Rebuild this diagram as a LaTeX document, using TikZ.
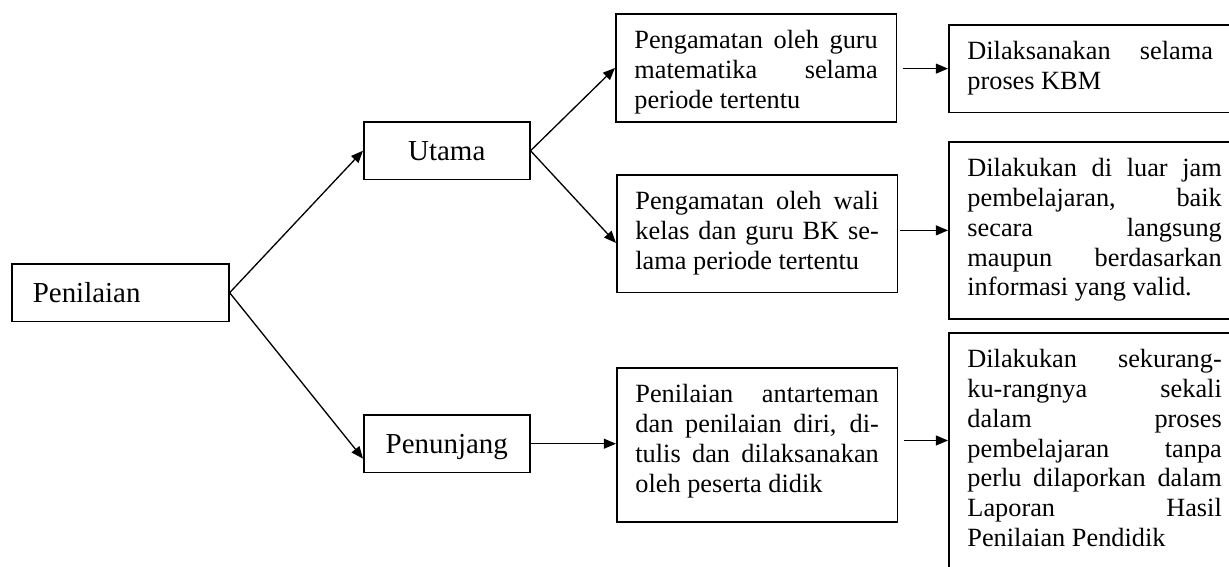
\documentclass[tikz,border=0pt]{standalone}
\usepackage{fontspec}
\setmainfont{Liberation Serif}
\usetikzlibrary{arrows.meta}
\tolerance=10000
\newcommand{\isi}[2]{\parbox[t]{#1}{\strut #2\strut}}

\begin{document}
\begin{tikzpicture}[x=0.456pt, y=-0.456pt, >={Triangle[length=5.5pt,width=4.5pt]},
  kotak/.style={draw, line width=0.7pt, anchor=north west, inner xsep=8.5pt, inner ysep=6.4pt,
    font=\fontsize{12}{13.6}\selectfont},
  induk/.style={draw, line width=0.7pt, anchor=north west, minimum height=26.4pt,
    text height=8.7pt, text depth=0pt, font=\fontsize{13.2}{15}\selectfont},
  panah/.style={->, line width=0.6pt}]
\useasboundingbox (0,0) rectangle (1229,567);

\node[induk, minimum width=99pt, text width=79.8pt, align=left] (penilaian) at (11,263) {Penilaian};
\node[induk, minimum width=75.7pt] (utama) at (363,121) {Utama};
\node[induk, minimum width=75.7pt] (penunjang) at (363,414) {Penunjang};

\node[kotak, text depth=27.1pt] (amat1) at (615,13) {\isi{111pt}{Pengamatan oleh guru\linebreak matematika selama\linebreak periode tertentu}};
\node[kotak] (amat2) at (616,174) {\isi{111pt}{Pengamatan oleh wali\linebreak kelas dan guru BK se-\linebreak lama periode tertentu}};
\node[kotak, text depth=48pt] (diri) at (616,367) {\isi{111pt}{Penilaian antarteman\linebreak dan penilaian diri, di-\linebreak tulis dan dilaksanakan\linebreak oleh peserta didik}};

\node[kotak] (ket1) at (948,24) {\isi{112pt}{Dilaksanakan selama\linebreak proses KBM}};
\node[kotak] (ket2) at (948,141) {\isi{116pt}{Dilakukan di luar jam\linebreak pembelajaran, baik\linebreak secara langsung\linebreak maupun berdasarkan\linebreak informasi yang valid.}};
\node[kotak, text depth=92pt] (ket3) at (948,332) {\isi{116pt}{Dilakukan sekurang-\linebreak ku-rangnya sekali\linebreak dalam proses\linebreak pembelajaran tanpa\linebreak perlu dilaporkan dalam\linebreak Laporan Hasil\linebreak Penilaian Pendidik}};

\draw[panah] (penilaian.east) -- (utama.west);
\draw[panah] (penilaian.east) -- ([yshift=-6.8pt]penunjang.west);
\draw[panah] (utama.east) -- (amat1.west);
\draw[panah] (utama.east) -- ([yshift=-4.3pt]amat2.west);
\draw[panah] (penunjang.east) -- (penunjang.east -| diri.west);
\draw[panah] ([xshift=2.5pt]amat1.east |- ket1.west) -- (ket1.west);
\draw[panah] ([xshift=1pt]amat2.east |- ket2.west) -- (ket2.west);
\draw[panah] ([xshift=2.5pt,yshift=2pt]diri.east) -- ([yshift=2pt]diri.east -| ket3.west);

\end{tikzpicture}
\end{document}
